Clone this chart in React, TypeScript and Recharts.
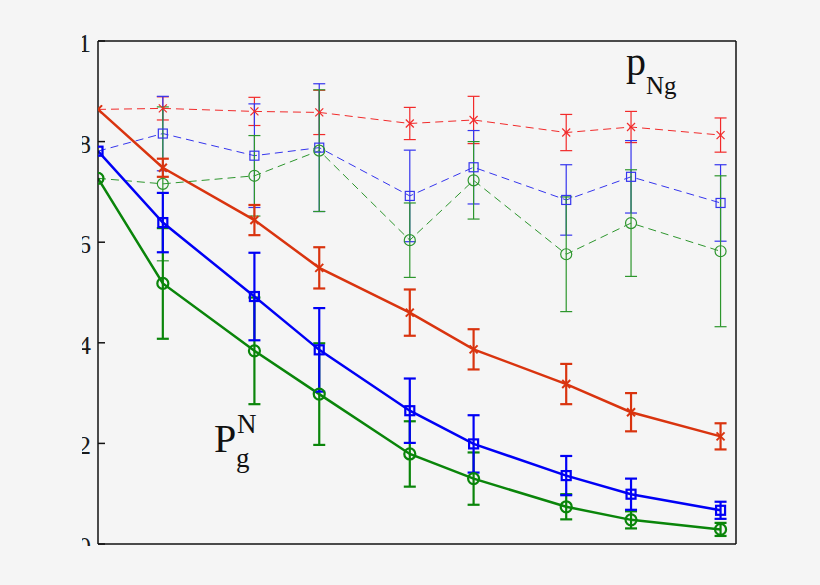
import React from "react";
import { LineChart, Line, XAxis, YAxis, ErrorBar } from "recharts";

// x positions of the nine samples
const xs = [0, 3.15, 7.6, 10.75, 15.15, 18.25, 22.75, 25.9, 30.25];
const xTicks = [5, 10, 15, 20, 25, 30];
const yTicks = [0, 0.2, 0.4, 0.6, 0.8, 1];

// solid curves, P_g^N
const solidRed = [0.864, 0.748, 0.644, 0.549, 0.46, 0.387, 0.318, 0.262, 0.214];
const solidRedErr = [null, 0.018, 0.03, 0.041, 0.046, 0.04, 0.04, 0.038, 0.026];
const solidBlue = [0.781, 0.639, 0.492, 0.386, 0.265, 0.199, 0.136, 0.099, 0.067];
const solidBlueErr = [null, 0.059, 0.087, 0.083, 0.064, 0.057, 0.039, 0.031, 0.017];
const solidGreen = [0.727, 0.518, 0.384, 0.298, 0.179, 0.13, 0.074, 0.048, 0.029];
const solidGreenErr = [null, 0.11, 0.106, 0.101, 0.065, 0.052, 0.025, 0.017, 0.013];

// dashed curves, p_Ng
const dashRed = [0.864, 0.866, 0.86, 0.858, 0.836, 0.843, 0.818, 0.829, 0.813];
const dashRedErr = [null, 0.023, 0.028, 0.044, 0.032, 0.047, 0.036, 0.031, 0.034];
const dashBlue = [0.781, 0.816, 0.772, 0.788, 0.692, 0.749, 0.684, 0.73, 0.678];
const dashBlueErr = [null, 0.074, 0.103, 0.127, 0.091, 0.073, 0.07, 0.072, 0.076];
const dashGreen = [0.727, 0.716, 0.732, 0.782, 0.604, 0.723, 0.576, 0.638, 0.582];
const dashGreenErr = [null, 0.153, 0.08, 0.121, 0.074, 0.077, 0.114, 0.106, 0.15];

const rows = xs.map((x, i) => ({
  x,
  sRed: solidRed[i],
  sRedErr: solidRedErr[i],
  sBlue: solidBlue[i],
  sBlueErr: solidBlueErr[i],
  sGreen: solidGreen[i],
  sGreenErr: solidGreenErr[i],
  dRed: dashRed[i],
  dRedErr: dashRedErr[i],
  dBlue: dashBlue[i],
  dBlueErr: dashBlueErr[i],
  dGreen: dashGreen[i],
  dGreenErr: dashGreenErr[i],
}));

const RED = "#d9340f";
const BLUE = "#0000f5";
const GREEN = "#0a850a";
const RED_D = "#f22a2a";
const BLUE_D = "#3535ee";
const GREEN_D = "#2d962d";

const SERIF = "'Liberation Serif', 'DejaVu Serif', serif";
const BG = "#f5f5f5";
const INK = "#111";

type MarkProps = { cx?: number; cy?: number; color: string; w: number };

function XMark({ cx, cy, color, w }: MarkProps) {
  if (cx == null || cy == null) return null;
  const s = 4;
  return (
    <g stroke={color} strokeWidth={w} fill="none">
      <line x1={cx - s} y1={cy - s} x2={cx + s} y2={cy + s} />
      <line x1={cx - s} y1={cy + s} x2={cx + s} y2={cy - s} />
    </g>
  );
}

function SquareMark({ cx, cy, color, w }: MarkProps) {
  if (cx == null || cy == null) return null;
  const s = 4.5;
  return <rect x={cx - s} y={cy - s} width={s * 2} height={s * 2} stroke={color} strokeWidth={w} fill="none" />;
}

function CircleMark({ cx, cy, color, w }: MarkProps) {
  if (cx == null || cy == null) return null;
  return <circle cx={cx} cy={cy} r={5.5} stroke={color} strokeWidth={w} fill="none" />;
}

const dot = (Mark: typeof XMark, color: string, w: number, name: string) => (p: any) =>
  <Mark key={`${name}-${p.index}`} cx={p.cx} cy={p.cy} color={color} w={w} />;

// y labels; the original figure is cropped on the left and bottom
function YTick(props: any) {
  const { x, y, payload, index } = props;
  const id = `yclip-${index}`;
  const label = payload.value === 0 || payload.value === 1 ? String(payload.value) : payload.value.toFixed(1);
  return (
    <g>
      <clipPath id={id}>
        <rect x={82} y={y - 30} width={x - 82 + 6} height={Math.min(60, 546 - (y - 30))} />
      </clipPath>
      <text x={x} y={y + 11} textAnchor="end" fontFamily={SERIF} fontSize={26} fill="#1a1a1a" clipPath={`url(#${id})`}>
        {label}
      </text>
    </g>
  );
}

export default function App() {
  return (
    <div style={{ position: "fixed", left: 0, top: 0, width: 820, height: 585, background: BG }}>
      <LineChart width={820} height={585} data={rows} margin={{ top: 40, right: 83, bottom: 40, left: 38 }}>
        <XAxis
          dataKey="x"
          type="number"
          domain={[0, 31]}
          ticks={xTicks}
          allowDataOverflow
          height={1}
          tick={false}
          tickSize={-7}
          stroke={INK}
          strokeWidth={1.5}
        />
        <XAxis
          xAxisId="top"
          orientation="top"
          type="number"
          domain={[0, 31]}
          ticks={xTicks}
          allowDataOverflow
          height={1}
          tick={false}
          tickSize={-7}
          stroke={INK}
          strokeWidth={1.5}
        />
        <YAxis
          type="number"
          domain={[0, 1]}
          ticks={yTicks}
          allowDataOverflow
          width={60}
          tickSize={-7}
          tickMargin={14}
          tick={<YTick />}
          stroke={INK}
          strokeWidth={1.5}
        />
        <YAxis
          yAxisId="right"
          orientation="right"
          type="number"
          domain={[0, 1]}
          ticks={yTicks}
          allowDataOverflow
          width={1}
          tick={false}
          tickSize={-7}
          stroke={INK}
          strokeWidth={1.5}
        />

        <Line dataKey="dRed" stroke={RED_D} strokeWidth={1} strokeDasharray="8 5" isAnimationActive={false} dot={dot(XMark, RED_D, 1.2, "dr")} activeDot={false}>
          <ErrorBar dataKey="dRedErr" width={6} stroke={RED_D} strokeWidth={1.2} direction="y" />
        </Line>
        <Line dataKey="dBlue" stroke={BLUE_D} strokeWidth={1} strokeDasharray="8 5" isAnimationActive={false} dot={dot(SquareMark, BLUE_D, 1.2, "db")} activeDot={false}>
          <ErrorBar dataKey="dBlueErr" width={6} stroke={BLUE_D} strokeWidth={1.2} direction="y" />
        </Line>
        <Line dataKey="dGreen" stroke={GREEN_D} strokeWidth={1} strokeDasharray="8 5" isAnimationActive={false} dot={dot(CircleMark, GREEN_D, 1.2, "dg")} activeDot={false}>
          <ErrorBar dataKey="dGreenErr" width={6} stroke={GREEN_D} strokeWidth={1.2} direction="y" />
        </Line>

        <Line dataKey="sRed" stroke={RED} strokeWidth={2.5} isAnimationActive={false} dot={dot(XMark, RED, 2, "sr")} activeDot={false}>
          <ErrorBar dataKey="sRedErr" width={6} stroke={RED} strokeWidth={2.2} direction="y" />
        </Line>
        <Line dataKey="sGreen" stroke={GREEN} strokeWidth={2.5} isAnimationActive={false} dot={dot(CircleMark, GREEN, 2.2, "sg")} activeDot={false}>
          <ErrorBar dataKey="sGreenErr" width={6} stroke={GREEN} strokeWidth={2.2} direction="y" />
        </Line>
        <Line dataKey="sBlue" stroke={BLUE} strokeWidth={2.5} isAnimationActive={false} dot={dot(SquareMark, BLUE, 2.2, "sb")} activeDot={false}>
          <ErrorBar dataKey="sBlueErr" width={6} stroke={BLUE} strokeWidth={2.2} direction="y" />
        </Line>
      </LineChart>

      <svg width={820} height={585} style={{ position: "absolute", left: 0, top: 0, pointerEvents: "none" }}>
        <g fontFamily={SERIF} fill={INK}>
          <text x={214} y={452} fontSize={40}>P</text>
          <text x={237} y={433} fontSize={27}>N</text>
          <text x={236} y={467} fontSize={27}>g</text>
          <text x={626} y={75} fontSize={40}>p</text>
          <text x={646} y={94} fontSize={25}>Ng</text>
        </g>
      </svg>
    </div>
  );
}
